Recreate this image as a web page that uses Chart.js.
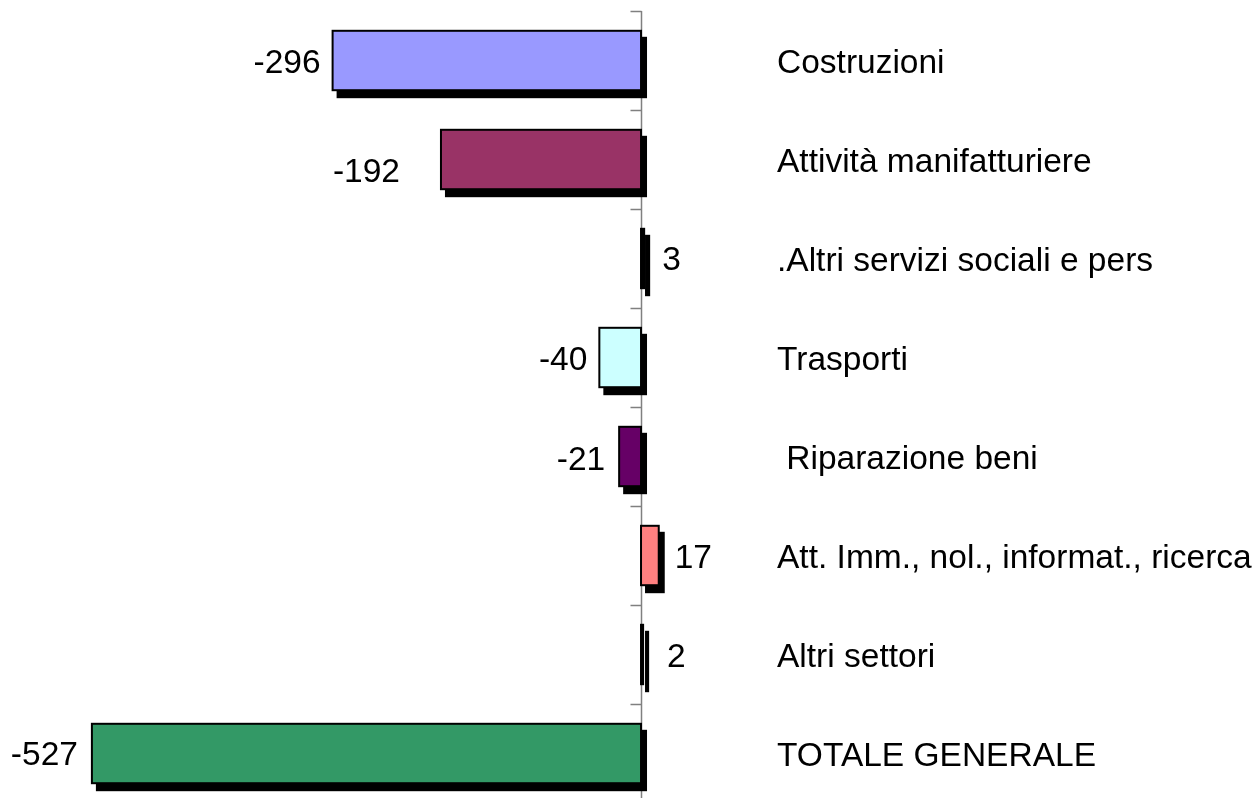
<!DOCTYPE html>
<html>
<head>
<meta charset="utf-8">
<script src="https://cdn.jsdelivr.net/npm/chart.js@4"></script>
<style>
  html, body { margin: 0; padding: 0; background: #ffffff; overflow: hidden; width: 1256px; height: 798px; }
  canvas { display: block; }
</style>
</head>
<body>
<canvas id="c" width="1256" height="810"></canvas>
<script>
// ---- data ----
const categories = [
  "Costruzioni",
  "Attività manifatturiere",
  ".Altri servizi sociali e pers",
  "Trasporti",
  " Riparazione beni",
  "Att. Imm., nol., informat., ricerca",
  "Altri settori",
  "TOTALE GENERALE"
];
const values = [-296, -192, 3, -40, -21, 17, 2, -527];
const barColors = ["#9999FF", "#993366", "#000000", "#CCFFFF", "#660066", "#FF8080", "#000000", "#339966"];

// ---- style ----
const FONT = '33.5px "Liberation Sans", Arial, sans-serif';
const labelNudge = [[0, 0], [-29, 10], [0, -1], [0, 0], [-2, 1], [-2, 0], [6, 0], [-2, -1]];
const SHADOW_DX = 5, SHADOW_DY = 7;
const OUTLINE = 2;

function barRect(bar) {
  const p = bar.getProps(['x', 'y', 'base', 'height'], true);
  return {
    l: Math.min(p.x, p.base), r: Math.max(p.x, p.base),
    t: p.y - p.height / 2, b: p.y + p.height / 2, cy: p.y, x: p.x, base: p.base
  };
}

const decorPlugin = {
  id: 'decor',
  beforeDatasetsDraw(chart) {
    const ctx = chart.ctx;
    const xs = chart.scales.x;
    const x0 = Math.round(xs.getPixelForValue(0)) + 0.5;
    const top = chart.chartArea.top, bottom = chart.chartArea.bottom;
    ctx.save();
    ctx.strokeStyle = '#808080';
    ctx.lineWidth = 1.5;
    ctx.beginPath();
    ctx.moveTo(x0, top);
    ctx.lineTo(x0, bottom);
    const n = categories.length;
    for (let i = 0; i <= n; i++) {
      const y = Math.round(top + (bottom - top) * i / n) + 0.5;
      ctx.moveTo(x0 - 11, y);
      ctx.lineTo(x0, y);
    }
    ctx.stroke();
    // drop shadows
    const meta = chart.getDatasetMeta(0);
    ctx.fillStyle = '#000000';
    meta.data.forEach((bar) => {
      const q = barRect(bar);
      const h = OUTLINE / 2;
      ctx.fillRect(q.l - h + SHADOW_DX, q.t - h + SHADOW_DY, q.r - q.l + OUTLINE, q.b - q.t + OUTLINE);
    });
    ctx.restore();
  },
  afterDatasetsDraw(chart) {
    const ctx = chart.ctx;
    const meta = chart.getDatasetMeta(0);
    ctx.save();
    // outlines centred on the bar edges
    ctx.strokeStyle = '#000000';
    ctx.lineWidth = OUTLINE;
    meta.data.forEach((bar) => {
      const q = barRect(bar);
      ctx.strokeRect(q.l, q.t, q.r - q.l, q.b - q.t);
    });
    ctx.font = FONT;
    ctx.fillStyle = '#000000';
    ctx.textBaseline = 'alphabetic';
    meta.data.forEach((bar, i) => {
      const q = barRect(bar);
      const v = values[i];
      const base = q.cy + 12;
      ctx.textAlign = v < 0 ? 'right' : 'left';
      const x = v < 0 ? q.l - 12 : q.r + 18;
      ctx.fillText(String(v), x + labelNudge[i][0], base + labelNudge[i][1]);
      ctx.textAlign = 'left';
      ctx.fillText(categories[i], 777, base);
    });
    ctx.restore();
  }
};

new Chart(document.getElementById('c'), {
  type: 'bar',
  data: {
    labels: categories,
    datasets: [{
      data: values,
      backgroundColor: barColors,
      borderWidth: 0,
      categoryPercentage: 1.0,
      barPercentage: 0.6
    }]
  },
  options: {
    indexAxis: 'y',
    responsive: false,
    animation: false,
    devicePixelRatio: 1,
    layout: { padding: { left: 0, right: 0, top: 11, bottom: 7 } },
    plugins: { legend: { display: false }, tooltip: { enabled: false } },
    scales: {
      x: { display: false, min: -615.2, max: 590.2 },
      y: { display: false, offset: true }
    }
  },
  plugins: [decorPlugin]
});
</script>
</body>
</html>
